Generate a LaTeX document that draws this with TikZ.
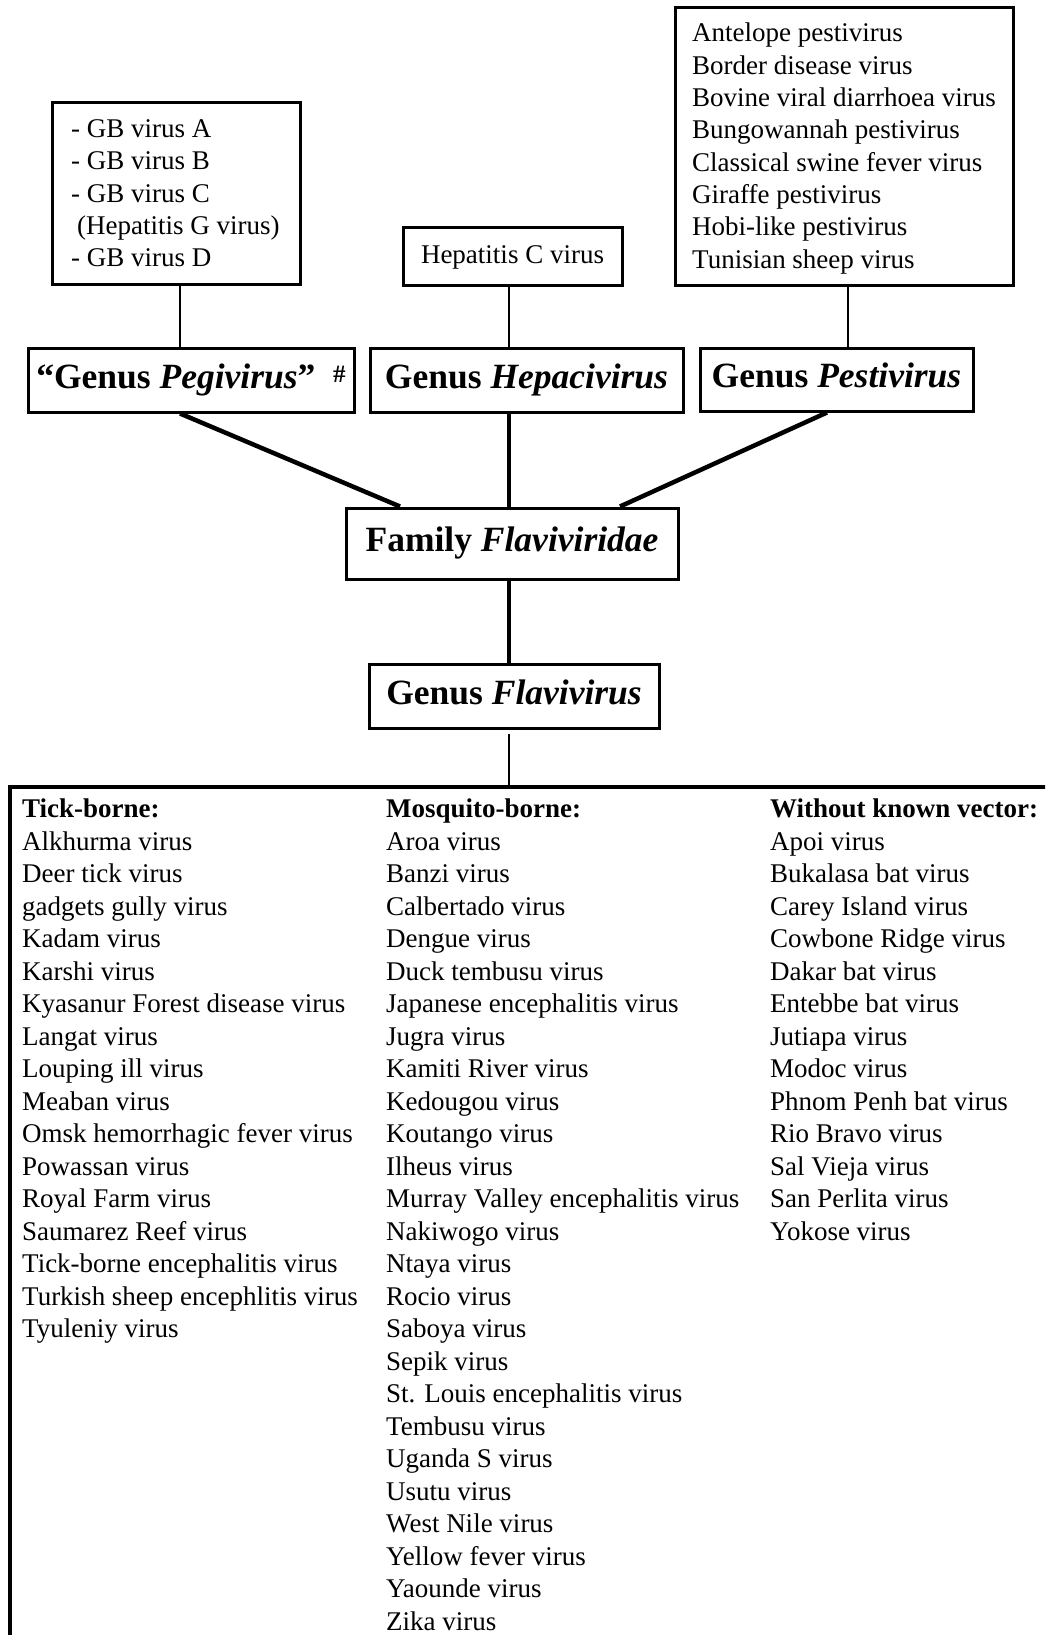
\documentclass[tikz,border=0pt]{standalone}
\usepackage{fontspec}
\setmainfont{Liberation Serif}
\usetikzlibrary{calc}
\begin{document}
\begin{tikzpicture}[x=1pt,y=-1pt,
  box/.style={draw, line width=3pt, rectangle, inner sep=0pt},
  head/.style={box, font=\fontsize{35.5}{40}\selectfont\bfseries, text height=24pt, text depth=8pt},
  item/.style={anchor=base west, inner sep=0pt, font=\fontsize{27}{32}\selectfont},
  bitem/.style={item, font=\fontsize{27}{32}\selectfont\bfseries},
  thinline/.style={line width=2.5pt},
  heavy/.style={line width=4.5pt}]
\useasboundingbox (0,0) rectangle (1045,1635);
\clip (0,0) rectangle (1045,1635);
\fill[white] (0,0) rectangle (1045,1635);

% upper list boxes
\node[box, minimum width=248, minimum height=181] (gb) at (176,193.5) {};
\node[item] (gb1) at (71,137.5) {- GB virus A};
\node[item] (gb2) at (71,169.8) {- GB virus B};
\node[item] (gb3) at (71,202.1) {- GB virus C};
\node[item] (gb4) at (77,234.4) {(Hepatitis G virus)};
\node[item] (gb5) at (71,266.7) {- GB virus D};

\node[box, minimum width=219, minimum height=58, font=\fontsize{27}{32}\selectfont, text height=19pt, text depth=5pt] (hcv) at (512.5,256) {Hepatitis C virus};

\node[box, minimum width=338, minimum height=277] (pestlist) at (844,146.5) {};
\foreach \t [count=\i from 0] in {Antelope pestivirus, Border disease virus, Bovine viral diarrhoea virus, Bungowannah pestivirus, Classical swine fever virus, Giraffe pestivirus, Hobi-like pestivirus, Tunisian sheep virus}
  \node[item] (pl\i) at (692,{41.7+\i*32.35}) {\t};

% genus boxes
\node[head, minimum width=326, minimum height=64] (peg) at (191,380)
  {“Genus \textit{Pegivirus}”\hspace{0.5em}\raisebox{6pt}{\fontsize{25}{25}\selectfont\#}};
\node[head, minimum width=313, minimum height=64] (hep) at (526.5,380) {Genus \textit{Hepacivirus}};
\node[head, minimum width=273, minimum height=63] (pest) at (836.5,379.5) {Genus \textit{Pestivirus}};

\node[head, minimum width=332, minimum height=71] (fam) at (512,543.5) {Family \textit{Flaviviridae}};
\node[head, minimum width=290, minimum height=64] (flav) at (514,696) {Genus \textit{Flavivirus}};

% big open box
\node[box, line width=3.5pt, minimum width=1100, minimum height=900, anchor=north west] (big) at (8,785) {};

% connectors
\draw[thinline] ([xshift=4pt]gb.south) -- ([xshift=4pt]gb.south |- peg.north);
\draw[thinline] ([xshift=-3.5pt]hcv.south) -- ([xshift=-3.5pt]hcv.south |- hep.north);
\draw[thinline] ([xshift=4pt]pestlist.south) -- ([xshift=4pt]pestlist.south |- pest.north);
\draw[heavy] ([xshift=-3pt]fam.north) -- ([xshift=-3pt]fam.north |- hep.south);
\draw[heavy] ([xshift=-11pt]peg.south) -- ([xshift=-112pt]fam.north);
\draw[heavy] ([xshift=-9.5pt]pest.south) -- ([xshift=108pt]fam.north);
\draw[heavy] ([xshift=-3pt]fam.south) -- ([xshift=-3pt]fam.south |- flav.north);
\draw[thinline] ([xshift=-5pt,yshift=-4pt]flav.south) -- ([xshift=-5pt]flav.south |- big.north);

% columns
\node[bitem] (tickh) at (22,817.5) {Tick-borne:};
\foreach \t [count=\i from 1] in {Alkhurma virus, Deer tick virus, gadgets gully virus, Kadam virus, Karshi virus, Kyasanur Forest disease virus, Langat virus, Louping ill virus, Meaban virus, Omsk hemorrhagic fever virus, Powassan virus, Royal Farm virus, Saumarez Reef virus, Tick-borne encephalitis virus, Turkish sheep encephlitis virus, Tyuleniy virus}
  \node[item] (tick\i) at (22,{817.5+\i*32.5}) {\t};

\node[bitem] (mosh) at (386,817.5) {Mosquito-borne:};
\foreach \t [count=\i from 1] in {Aroa virus, Banzi virus, Calbertado virus, Dengue virus, Duck tembusu virus, Japanese encephalitis virus, Jugra virus, Kamiti River virus, Kedougou virus, Koutango virus, Ilheus virus, Murray Valley encephalitis virus, Nakiwogo virus, Ntaya virus, Rocio virus, Saboya virus, Sepik virus, St. Louis encephalitis virus, Tembusu virus, Uganda S virus, Usutu virus, West Nile virus, Yellow fever virus, Yaounde virus, Zika virus}
  \node[item] (mos\i) at (386,{817.5+\i*32.5}) {\t};

\node[bitem] (noh) at (770,817.5) {Without known vector:};
\foreach \t [count=\i from 1] in {Apoi virus, Bukalasa bat virus, Carey Island virus, Cowbone Ridge virus, Dakar bat virus, Entebbe bat virus, Jutiapa virus, Modoc virus, Phnom Penh bat virus, Rio Bravo virus, Sal Vieja virus, San Perlita virus, Yokose virus}
  \node[item] (no\i) at (770,{817.5+\i*32.5}) {\t};
\end{tikzpicture}
\end{document}
